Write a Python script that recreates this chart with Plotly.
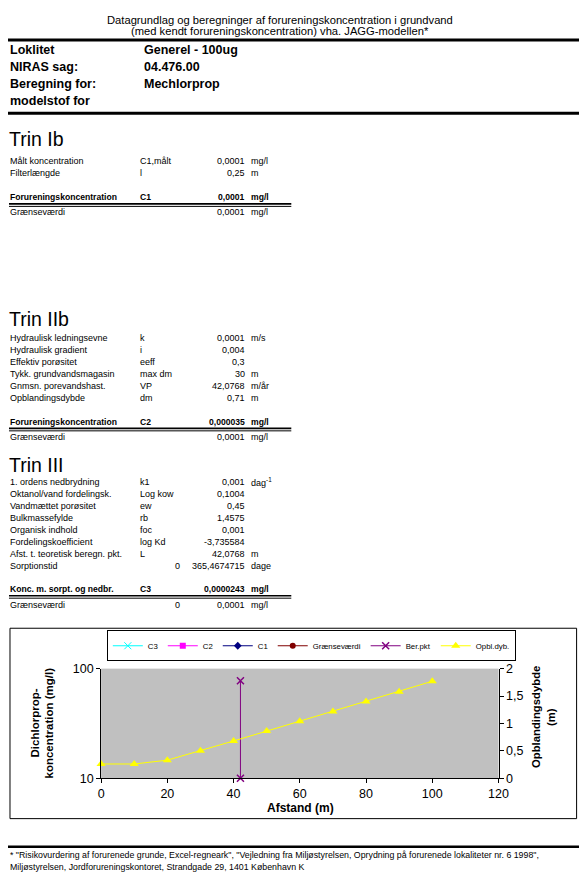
import plotly.graph_objects as go

# ---- data ----
afstand = [0, 10, 20, 30, 40, 50, 60, 70, 80, 90, 100]
opbl_dyb = [0.26, 0.26, 0.33, 0.50, 0.68, 0.86, 1.04, 1.22, 1.40, 1.58, 1.77]
ber_pkt_x = [42.0768, 42.0768]
ber_pkt_y = [0, 1.78]
c1_x, c1_y = [0], [0.0001]
c2_x, c2_y = [42.0768], [0.000035]
c3_x, c3_y = [42.0768], [0.0000243]
graense_x = [0, 100]
graense_y = [0.0001, 0.0001]

titel = ["Datagrundlag og beregninger af forureningskoncentration i grundvand",
         "(med kendt forureningskoncentration) vha. JAGG-modellen*"]
hoved_labels = ["Loklitet", "NIRAS sag:", "Beregning for:", "modelstof for"]
hoved_vaerdier = ["Generel - 100ug", "04.476.00", "Mechlorprop", ""]

trin1 = [("Målt koncentration", "C1,målt", "", "0,0001", "mg/l"),
         ("Filterlængde", "l", "", "0,25", "m")]
trin1_res = ("Forureningskoncentration", "C1", "", "0,0001", "mg/l")
trin1_gr = ("Grænseværdi", "", "", "0,0001", "mg/l")

trin2 = [("Hydraulisk ledningsevne", "k", "", "0,0001", "m/s"),
         ("Hydraulisk gradient", "i", "", "0,004", ""),
         ("Effektiv porøsitet", "eeff", "", "0,3", ""),
         ("Tykk. grundvandsmagasin", "max dm", "", "30", "m"),
         ("Gnmsn. porevandshast.", "VP", "", "42,0768", "m/år"),
         ("Opblandingsdybde", "dm", "", "0,71", "m")]
trin2_res = ("Forureningskoncentration", "C2", "", "0,000035", "mg/l")
trin2_gr = ("Grænseværdi", "", "", "0,0001", "mg/l")

trin3 = [("1. ordens nedbrydning", "k1", "", "0,001", "dag<sup>-1</sup>"),
         ("Oktanol/vand fordelingsk.", "Log kow", "", "0,1004", ""),
         ("Vandmættet porøsitet", "ew", "", "0,45", ""),
         ("Bulkmassefylde", "rb", "", "1,4575", ""),
         ("Organisk indhold", "foc", "", "0,001", ""),
         ("Fordelingskoefficient", "log Kd", "", "-3,735584", ""),
         ("Afst. t. teoretisk beregn. pkt.", "L", "", "42,0768", "m"),
         ("Sorptionstid", "", "0", "365,4674715", "dage")]
trin3_res = ("Konc. m. sorpt. og nedbr.", "C3", "", "0,0000243", "mg/l")
trin3_gr = ("Grænseværdi", "", "0", "0,0001", "mg/l")

fodnote = ['* "Risikovurdering af forurenede grunde, Excel-regneark", "Vejledning fra Miljøstyrelsen, '
           'Oprydning på forurenede lokaliteter nr. 6 1998",',
           "Miljøstyrelsen, Jordforureningskontoret, Strandgade 29, 1401 København K"]

# ---- page helpers ----
# positions below are in screenshot pixels; the page shows the figure
# shifted and slightly scaled, so convert back to figure pixels.
AX, AY = 10.0, 15.0
SX, SY = 0.977, 0.982
FW, FH = 592, 875
FONT = "Liberation Sans, Arial, sans-serif"
annotations = []
shapes = []


def px(x):
    return (x - AX) / SX / FW


def py(y):
    return 1 - (y - AY) / SY / FH


def txt(x, y, s, size=9, bold=False, anchor="left", angle=0):
    if bold:
        s = "<b>" + s + "</b>"
    annotations.append(dict(x=px(x), y=py(y), xref="paper", yref="paper", text=s,
                            showarrow=False, xanchor=anchor, yanchor="middle",
                            textangle=angle, borderpad=0,
                            font=dict(family=FONT, size=size, color="black")))


def hline(x0, x1, y, w=1):
    shapes.append(dict(type="line", xref="paper", yref="paper",
                       x0=px(x0), x1=px(x1), y0=py(y), y1=py(y),
                       line=dict(color="black", width=w)))


def row(r, y, bold=False):
    label, sym, extra, val, unit = r
    size = 8.6 if bold else 9
    txt(8, y, label, size, bold)
    if sym:
        txt(138, y, sym, size, bold)
    if extra:
        txt(180, y, extra, size, bold, anchor="right")
    txt(245, y, val, size, bold, anchor="right")
    if unit:
        txt(249, y, unit, size, bold)


def sektion(navn, y_navn, rows, y0, res, y_res, gr, y_gr):
    txt(7, y_navn, navn, size=19.5)
    for i, r in enumerate(rows):
        row(r, y0 + 12 * i)
    row(res, y_res, bold=True)
    hline(8, 290, y_res + 6.5, 1.6)
    hline(8, 290, y_res + 9, 1)
    row(gr, y_gr)


# header
txt(279, 19.5, titel[0], size=11.2, anchor="center")
txt(279, 31, titel[1], size=11.2, anchor="center")
hline(5, 582, 40, 3)
for i, (a, b) in enumerate(zip(hoved_labels, hoved_vaerdier)):
    txt(8, 50 + 17 * i, a, size=12.5, bold=True)
    if b:
        txt(142, 50 + 17 * i, b, size=12.5, bold=True)
hline(5, 582, 113, 3)

sektion("Trin Ib", 139, trin1, 161, trin1_res, 197, trin1_gr, 212)
sektion("Trin IIb", 318, trin2, 337, trin2_res, 421, trin2_gr, 436)
sektion("Trin III", 464, trin3, 481, trin3_res, 588, trin3_gr, 604)

# chart frame and axis titles
shapes.append(dict(type="rect", xref="paper", yref="paper", x0=px(9), x1=px(575),
                   y0=py(817), y1=py(627), line=dict(color="black", width=1)))
txt(34, 722, "Dichlorprop-", size=11.5, bold=True, angle=-90, anchor="center")
txt(48, 722, "koncentration (mg/l)", size=11.5, bold=True, angle=-90, anchor="center")
txt(535, 716, "Opblandingsdybde", size=11.3, bold=True, angle=-90, anchor="center")
txt(550, 716, "(m)", size=11.3, bold=True, angle=-90, anchor="center")
txt(299, 806, "Afstand (m)", size=12, bold=True, anchor="center")

# footnote
hline(5, 582, 845, 2.5)
txt(8, 853, fodnote[0], size=8.8)
txt(8, 865, fodnote[1], size=8.8)

# ---- chart ----
fig = go.Figure()
fig.add_trace(go.Scatter(x=c3_x, y=c3_y, name="C3", mode="lines+markers",
                         line=dict(color="#00FFFF", width=1),
                         marker=dict(symbol="x-thin", size=7, line=dict(color="#00FFFF", width=1))))
fig.add_trace(go.Scatter(x=c2_x, y=c2_y, name="C2", mode="lines+markers",
                         line=dict(color="#FF00FF", width=1),
                         marker=dict(symbol="square", size=6, color="#FF00FF")))
fig.add_trace(go.Scatter(x=c1_x, y=c1_y, name="C1", mode="lines+markers",
                         line=dict(color="#000080", width=1),
                         marker=dict(symbol="diamond", size=6, color="#000080")))
fig.add_trace(go.Scatter(x=graense_x, y=graense_y, name="Grænseværdi", mode="lines+markers",
                         line=dict(color="#800000", width=1),
                         marker=dict(symbol="circle", size=6, color="#800000")))
fig.add_trace(go.Scatter(x=ber_pkt_x, y=ber_pkt_y, name="Ber.pkt", mode="lines+markers",
                         yaxis="y2", cliponaxis=False,
                         line=dict(color="#800080", width=1),
                         marker=dict(symbol="x-thin", size=7, line=dict(color="#800080", width=1.5))))
fig.add_trace(go.Scatter(x=afstand, y=opbl_dyb, name="Opbl.dyb.", mode="lines+markers",
                         yaxis="y2", cliponaxis=False,
                         line=dict(color="#FFFF00", width=1),
                         marker=dict(symbol="triangle-up", size=8, color="#FFFF00")))

axis_font = dict(family=FONT, size=12.5, color="black")
fig.update_layout(
    width=FW, height=FH,
    margin=dict(l=0, r=0, t=0, b=0),
    paper_bgcolor="white",
    plot_bgcolor="#C0C0C0",
    separators=", ",
    font=dict(family=FONT, color="black"),
    showlegend=True,
    legend=dict(orientation="h", x=px(310), y=py(629), xanchor="center", yanchor="top",
                bordercolor="black", borderwidth=1, bgcolor="white",
                font=dict(family=FONT, size=7.8, color="black"),
                itemwidth=30, tracegroupgap=0),
    xaxis=dict(domain=[px(100), px(497)], range=[0, 120], dtick=20,
               showline=True, linecolor="black", linewidth=1, ticks="outside",
               ticklen=4, tickcolor="black", showgrid=False, zeroline=False,
               tickfont=axis_font, anchor="y"),
    yaxis=dict(domain=[py(776.7), py(667.3)], type="log", range=[1, 2],
               tickvals=[10, 100], ticktext=["10", "100"],
               showline=True, linecolor="black", linewidth=1, ticks="outside",
               ticklen=4, tickcolor="black", showgrid=False, zeroline=False,
               tickfont=axis_font),
    yaxis2=dict(overlaying="y", side="right", range=[0, 2], dtick=0.5,
                showline=True, linecolor="black", linewidth=1, ticks="outside",
                ticklen=4, tickcolor="black", showgrid=False, zeroline=False,
                tickfont=axis_font, anchor="x"),
    annotations=annotations,
    shapes=shapes,
)

fig.write_html("out.html")
